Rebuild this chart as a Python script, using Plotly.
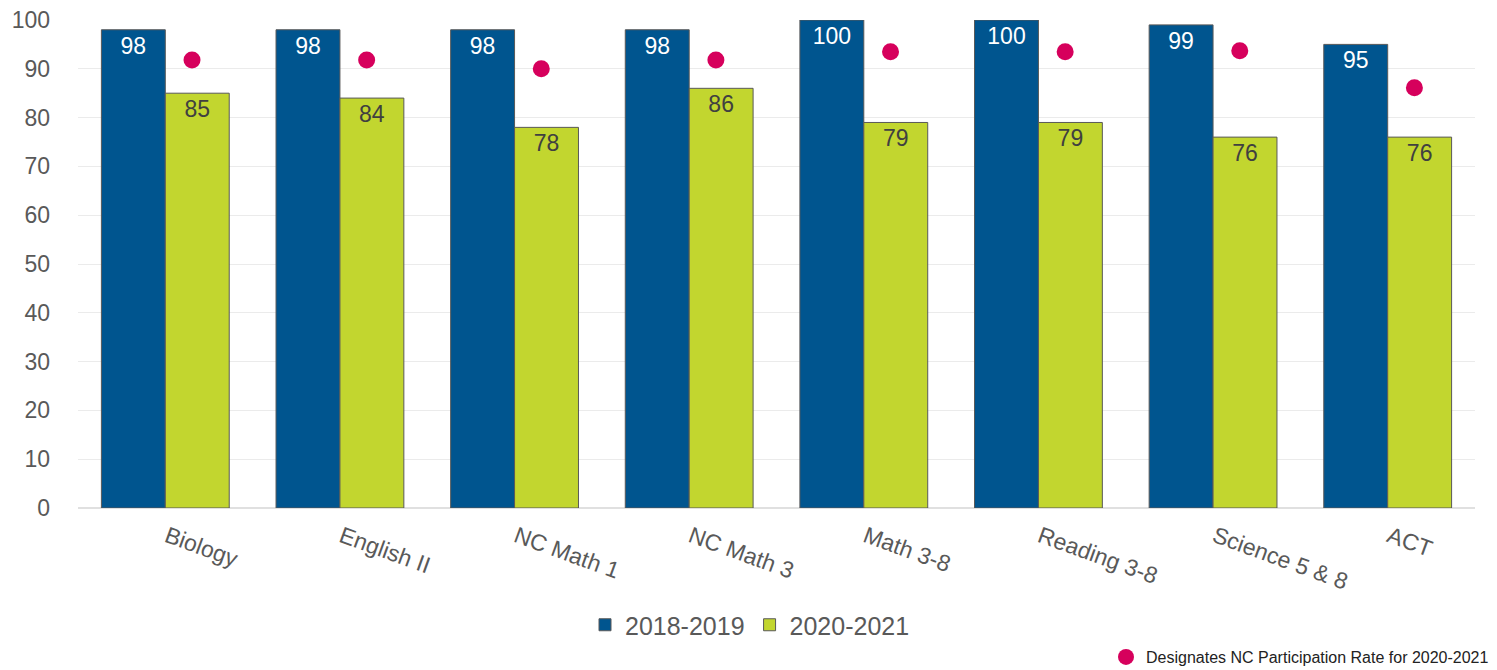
import plotly.graph_objects as go

# data
subjects = ['Biology', 'English II', 'NC Math 1', 'NC Math 3', 'Math 3-8',
            'Reading 3-8', 'Science 5 & 8', 'ACT']
rate_2019 = [98, 98, 98, 98, 100, 100, 99, 95]
rate_2021 = [85, 84, 78, 86, 79, 79, 76, 76]
nc_rate_2021 = [91.8, 91.8, 90.0, 91.8, 93.5, 93.5, 93.7, 86.1]

blue = '#00558F'
green = '#C2D62F'
pink = '#D6005C'
grey = '#595959'
font_family = 'Liberation Sans, Arial, sans-serif'

# page body keeps its default 8px margin, so the figure sits 8px in
W, H = 1489, 662

idx = list(range(len(subjects)))
bar_w = 0.366

fig = go.Figure()
fig.add_trace(go.Bar(
    x=idx, y=rate_2019, name='2018-2019', width=bar_w, offset=-bar_w,
    marker=dict(color=blue, line=dict(color=grey, width=1)),
    text=rate_2019, textposition='inside', insidetextanchor='end',
    textfont=dict(color='white', size=23, family=font_family),
    legend='legend'))
fig.add_trace(go.Bar(
    x=idx, y=rate_2021, name='2020-2021', width=bar_w, offset=0,
    marker=dict(color=green, line=dict(color=grey, width=1)),
    text=rate_2021, textposition='inside', insidetextanchor='end',
    textfont=dict(color='#404040', size=23, family=font_family),
    legend='legend'))
fig.add_trace(go.Scatter(
    x=[i + bar_w / 2 - 0.03 for i in idx], y=nc_rate_2021, mode='markers',
    name='Designates NC Participation Rate for 2020-2021',
    marker=dict(color=pink, size=17),
    legend='legend2'))

fig.update_layout(
    width=W, height=H,
    margin=dict(l=70, r=22, t=12, b=162, autoexpand=False),
    plot_bgcolor='white', paper_bgcolor='white',
    font=dict(family=font_family, color=grey),
    barmode='overlay',
    xaxis=dict(tickmode='array', tickvals=[i + 0.01 for i in idx], ticktext=subjects,
               tickangle=20, range=[-0.5, len(subjects) - 0.5],
               tickfont=dict(size=23, color=grey), showgrid=False,
               showline=False, zeroline=False, automargin=False,
               ticklabelstandoff=10, ticklabeloverflow='allow'),
    yaxis=dict(range=[0, 100], dtick=10, gridcolor='#EBEBEB', gridwidth=1,
               zeroline=True, zerolinecolor='#E0E0E0', automargin=False,
               tickfont=dict(size=23, color=grey), ticklabelstandoff=27,
               ticklabeloverflow='allow'),
    legend=dict(orientation='h', xref='container', yref='container',
                x=742 / W, xanchor='center', y=1 - 617 / H, yanchor='middle',
                font=dict(size=25, color=grey), traceorder='normal'),
    legend2=dict(orientation='h', xref='container', yref='container',
                 x=1486 / W, xanchor='right', y=1 - 649 / H, yanchor='middle',
                 font=dict(size=16, color='#222222')),
    showlegend=True,
)

fig.write_html('out.html')
